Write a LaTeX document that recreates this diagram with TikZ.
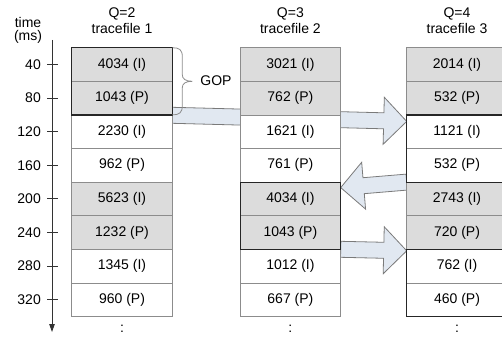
\documentclass[tikz,border=0pt]{standalone}
\usepackage{fontspec}
\setmainfont{Liberation Sans}
\usetikzlibrary{calc,backgrounds,arrows.meta}
\definecolor{cellgray}{HTML}{DCDCDC}
\definecolor{cellline}{HTML}{8C8C8C}
\definecolor{arrfill}{HTML}{E1E8F1}
\definecolor{arrline}{HTML}{7A7A7A}
\definecolor{axisline}{HTML}{333333}
\newcommand\blockarrow[2]{%
  \coordinate (ba-b) at ($(#2)!23pt!(#1)$);
  \path[blockarr] ($(#1)!8pt!90:(#2)$) -- ($(ba-b)!8pt!90:(#2)$) -- ($(ba-b)!23.5pt!90:(#2)$) -- (#2)
    -- ($(ba-b)!23.5pt!-90:(#2)$) -- ($(ba-b)!8pt!-90:(#2)$) -- ($(#1)!8pt!-90:(#2)$) -- cycle;}
\begin{document}
\begin{tikzpicture}[x=1pt,y=-1pt,
  font=\fontsize{14}{16}\selectfont,
  cell/.style={draw=cellline, line width=0.8pt, fill=white, minimum width=100.6pt, minimum height=33.6pt, inner sep=0pt, outer sep=0pt},
  gcell/.style={cell, fill=cellgray},
  darkbox/.style={draw=black!85, line width=1.2pt},
  blockarr/.style={draw=arrline, fill=arrfill, line width=0.8pt},
  lbl/.style={inner sep=0pt, anchor=east},
  axis/.style={draw=axisline, line width=0.9pt}]
\useasboundingbox (0,0) rectangle (502,337);

% headings
\node (h1a) at (122,14) {Q=2};
\node (h1b) at (122,28.5) {tracefile 1};
\node (h2a) at (290.4,14) {Q=3};
\node (h2b) at (290.4,28.5) {tracefile 2};
\node (h3a) at (457,14) {Q=4};
\node (h3b) at (457,28.5) {tracefile 3};
\node (ta) at (28,22.5) {time};
\node (tb) at (28,36.5) {(ms)};

% column 1
\node[gcell] (c1r1) at (122,64.5) {4034 (I)};
\node[gcell] (c1r2) at (122,98.1) {1043 (P)};
\node[cell]  (c1r3) at (122,131.7) {2230 (I)};
\node[cell]  (c1r4) at (122,165.3) {962 (P)};
\node[gcell] (c1r5) at (122,198.9) {5623 (I)};
\node[gcell] (c1r6) at (122,232.5) {1232 (P)};
\node[cell]  (c1r7) at (122,266.1) {1345 (I)};
\node[cell]  (c1r8) at (122,299.7) {960 (P)};
% column 2
\node[gcell] (c2r1) at (290.4,64.5) {3021 (I)};
\node[gcell] (c2r2) at (290.4,98.1) {762 (P)};
\node[cell]  (c2r3) at (290.4,131.7) {1621 (I)};
\node[cell]  (c2r4) at (290.4,165.3) {761 (P)};
\node[gcell] (c2r5) at (290.4,198.9) {4034 (I)};
\node[gcell] (c2r6) at (290.4,232.5) {1043 (P)};
\node[cell]  (c2r7) at (290.4,266.1) {1012 (I)};
\node[cell]  (c2r8) at (290.4,299.7) {667 (P)};
% column 3
\node[gcell] (c3r1) at (457,64.5) {2014 (I)};
\node[gcell] (c3r2) at (457,98.1) {532 (P)};
\node[cell]  (c3r3) at (457,131.7) {1121 (I)};
\node[cell]  (c3r4) at (457,165.3) {532 (P)};
\node[gcell] (c3r5) at (457,198.9) {2743 (I)};
\node[gcell] (c3r6) at (457,232.5) {720 (P)};
\node[cell]  (c3r7) at (457,266.1) {762 (I)};
\node[cell]  (c3r8) at (457,299.7) {460 (P)};

% dark outlines
\draw[darkbox] (c1r1.north west) rectangle (c1r2.south east);
\draw[darkbox] (c2r5.north west) rectangle (c2r6.south east);
\draw[darkbox] (c3r3.north west) rectangle (c3r4.south east);
\draw[darkbox] (c3r7.north west) rectangle (c3r8.south east);

% continuation dots
\node (d1) at (122,329) {:};
\node (d2) at (290.4,329) {:};
\node (d3) at (457,329) {:};

% GOP brace
\begin{scope}[shift={(c1r1.north east)}]
\draw[draw=cellline, line width=0.8pt] (0,0) .. controls (7,0) and (10,2) .. (10,9) -- (10,27)
  .. controls (10,31) and (13,33.6) .. (20,33.6) .. controls (13,33.6) and (10,36) .. (10,40)
  -- (10,58) .. controls (10,65) and (7,67.2) .. (0,67.2);
\end{scope}
\node (gop) at (216,81) {GOP};

% time axis
\coordinate (ax0) at (52,40);
\coordinate (ax1) at (52,332);
\draw[axis, -{Triangle[length=8pt,width=5.5pt]}] (ax0) -- (ax1);
\foreach \t/\y in {40/64.5,80/98.1,120/131.7,160/165.3,200/198.9,240/232.5,280/266.1,320/299.7}{
  \node[lbl] (t\t) at (41,\y) {\t};
  \draw[axis] (47,\y) -- (58,\y);
}

% switching arrows
\begin{pgfonlayer}{background}
\coordinate (a1s) at ([yshift=-0.4pt]c1r2.south east);
\coordinate (a1t) at ([yshift=-6.5pt]c3r3.north west);
\coordinate (a2s) at ([yshift=0pt]c3r5.north west);
\coordinate (a2t) at ([yshift=-5.5pt]c2r5.north east);
\coordinate (a3s) at (c2r6.south east);
\coordinate (a3t) at ([yshift=-1.5pt]c3r7.north west);
\blockarrow{a1s}{a1t}
\blockarrow{a2s}{a2t}
\blockarrow{a3s}{a3t}
\end{pgfonlayer}
\end{tikzpicture}
\end{document}
